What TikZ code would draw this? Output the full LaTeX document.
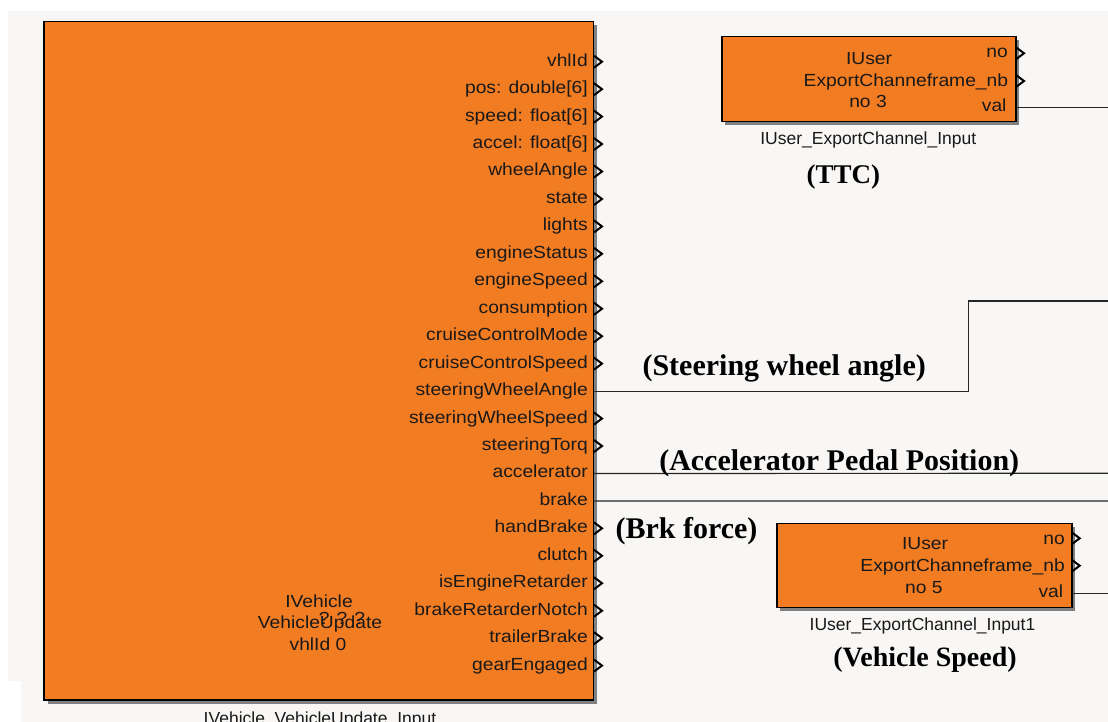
\documentclass[tikz,border=0pt]{standalone}
\usepackage{fontspec}
\newfontfamily\pfont[FakeStretch=1.1]{Liberation Sans}
\newfontfamily\lfont{Liberation Sans}
\newfontfamily\sfont{Liberation Serif}
\definecolor{simorange}{RGB}{242,124,34}
\definecolor{bggray}{RGB}{248,247,245}
\begin{document}
\begin{tikzpicture}[x=1pt,y=-1pt,
  blk/.style={draw=black, line width=1.6pt, fill=simorange, inner sep=0pt, rectangle},
  shade/.style={fill=black!50, draw=none},
  plab/.style={inner sep=0pt, font=\pfont\fontsize{17.5}{20}\selectfont, text=black!90},
  blab/.style={inner sep=0pt, font=\lfont\fontsize{17.5}{20}\selectfont, text=black!90, anchor=base},
  sig/.style={inner sep=0pt, font=\sfont\bfseries\fontsize{30}{34}\selectfont, anchor=base},
  wire/.style={draw=black!85, line width=1.2pt},
  chev/.style={draw=black, line width=2pt, line join=miter}]
\useasboundingbox (0,0) rectangle (1108,722);
\clip (0,0) rectangle (1108,722);
% background
\fill[white] (0,0) rectangle (1108,722);
\fill[bggray] (8,11) rectangle (1108,681);
\fill[bggray] (21,681) rectangle (1108,722);

% ---------- big block ----------
\fill[shade] (47.5,25) rectangle (597,703.5);
\node[blk, minimum width=549.5pt, minimum height=678.3pt] (veh) at (318.75,360.85) {};
\foreach \lab [count=\i from 0] in {vhlId, {pos: double[6]}, {speed: float[6]}, {accel: float[6]}, wheelAngle, state, lights, engineStatus, engineSpeed, consumption, cruiseControlMode, cruiseControlSpeed, steeringWheelAngle, steeringWheelSpeed, steeringTorq, accelerator, brake, handBrake, clutch, isEngineRetarder, brakeRetarderNotch, trailerBrake, gearEngaged}{
  \coordinate (port\i) at (594, 61.7+27.45*\i);
  \node[plab, anchor=base east] (pl\i) at (588, 66.2+27.45*\i) {\lab};
}
\foreach \i in {0,1,2,3,4,5,6,7,8,9,10,11,13,14,17,18,19,20,21,22}{
  \draw[chev] (port\i) ++(0,-6) -- ++(8,6) -- ++(-8,6);
}
\node[plab, anchor=base] (vt1) at (319,607) {IVehicle};
\node[plab, anchor=base] (vt2) at (320,628) {VehicleUpdate};
\node[plab, anchor=base] (vt3) at (318,650) {vhlId 0};
\node[plab, anchor=base] (vt4) at (342,624) {? ? ?};
\node[blab] (vname) at (320,724) {IVehicle\_VehicleUpdate\_Input};

% ---------- TTC block ----------
\fill[shade] (725,40) rectangle (1019,125);
\node[blk, minimum width=294.3pt, minimum height=85pt] (ttc) at (868.9,79.2) {};
\node[plab, anchor=base] (t1) at (869,64.3) {IUser};
\node[plab, anchor=base east] (t2) at (1008.3,86.7) {ExportChanneframe\_nb};
\node[plab, anchor=base] (t3) at (868,108) {no 3};
\node[plab, anchor=base east] (t4) at (1008,57.7) {no};
\node[plab, anchor=base east] (t5) at (1006.7,111.7) {val};
\coordinate (ttcno) at (1016,53.3);
\coordinate (ttcnb) at (1016,81);
\coordinate (ttcval) at (1016,107.3);
\coordinate (ttcout) at (1108,107.3);
\draw[chev] (ttcno) ++(0,-6) -- ++(8,6) -- ++(-8,6);
\draw[chev] (ttcnb) ++(0,-6) -- ++(8,6) -- ++(-8,6);
\draw[wire] (ttcval) -- (ttcout);
\node[blab] (ttcname) at (868.3,145) {IUser\_ExportChannel\_Input};
\node[sig, font=\sfont\bfseries\fontsize{27}{30}\selectfont] (ttclab) at (843.3,184) {(TTC)};

% ---------- Vehicle speed block ----------
\fill[shade] (780,526.5) rectangle (1075,610.5);
\node[blk, minimum width=295pt, minimum height=84pt] (vs) at (924.2,565.3) {};
\node[plab, anchor=base] (s1) at (925,549.3) {IUser};
\node[plab, anchor=base east] (s2) at (1065,571.7) {ExportChanneframe\_nb};
\node[plab, anchor=base] (s3) at (923.8,593.3) {no 5};
\node[plab, anchor=base east] (s4) at (1065,544.3) {no};
\node[plab, anchor=base east] (s5) at (1063.3,597.7) {val};
\coordinate (vsno) at (1071.7,538.3);
\coordinate (vsnb) at (1071.7,565.7);
\coordinate (vsval) at (1071.7,593.3);
\coordinate (vsout) at (1108,593.3);
\draw[chev] (vsno) ++(0,-6) -- ++(8,6) -- ++(-8,6);
\draw[chev] (vsnb) ++(0,-6) -- ++(8,6) -- ++(-8,6);
\draw[wire] (vsval) -- (vsout);
\node[blab] (vsname) at (922.5,630) {IUser\_ExportChannel\_Input1};
\node[sig, font=\sfont\bfseries\fontsize{28}{32}\selectfont] (vslab) at (925,666.7) {(Vehicle Speed)};

% ---------- signal wires ----------
\coordinate (swA) at (968.7,301);
\coordinate (swOut) at (1108,301);
\coordinate (accOut) at (1108,473.3);
\coordinate (brkOut) at (1108,501);
\draw[wire] (port12) -| (swA) -- (swOut);
\draw[wire] (port15) -- (accOut);
\draw[wire] (port16) -- (brkOut);
\node[sig] (swlab) at (784.2,375) {(Steering wheel angle)};
\node[sig] (acclab) at (839.2,470.7) {(Accelerator Pedal Position)};
\node[sig] (brklab) at (686.5,538) {(Brk force)};
\end{tikzpicture}
\end{document}
